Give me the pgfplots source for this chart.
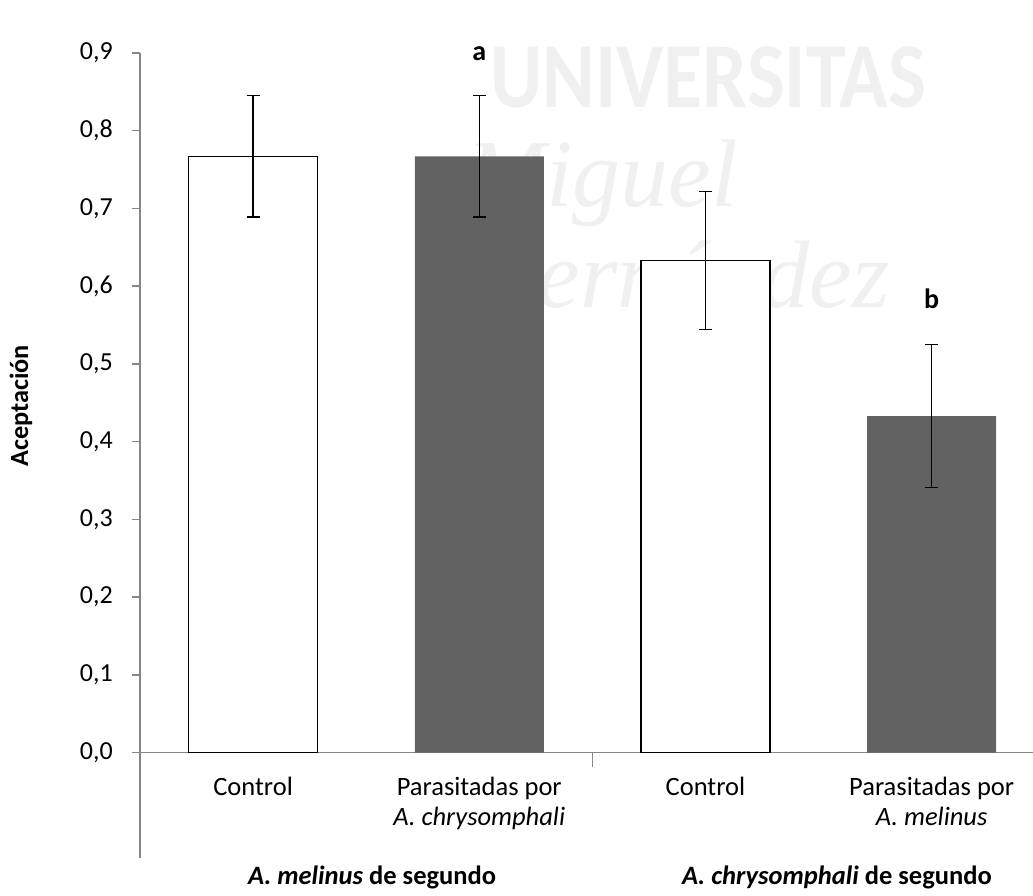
\documentclass[border=0pt]{standalone}
\usepackage{pgfplots}
\pgfplotsset{compat=1.18}
\usepackage{fontspec}
\setmainfont{Carlito}
\newfontfamily\wmserif{Liberation Serif}
\definecolor{axisgray}{RGB}{134,134,134}
\definecolor{barDark}{RGB}{98,98,98}
\definecolor{wm}{RGB}{240,240,240}
\begin{document}
\begin{tikzpicture}
\useasboundingbox (-140pt,-142.3pt) rectangle (893pt,752.7pt);
% faint watermark (behind the chart)
\node[anchor=base west, inner sep=0pt, text=wm, font=\fontsize{93}{100}\selectfont\bfseries] at (350pt,644.7pt) {\scalebox{0.86}[1]{UNIVERSITAS}};
\node[anchor=base west, inner sep=0pt, text=wm, font=\fontsize{96}{100}\wmserif\itshape] at (326pt,545.7pt) {Miguel};
\node[anchor=base west, inner sep=0pt, text=wm, font=\fontsize{96}{100}\wmserif\itshape] at (328pt,444.7pt) {Hernández};
\begin{axis}[
  at={(0pt,0pt)}, anchor=south west,
  scale only axis, width=893pt, height=699.7pt,
  xmin=-0.5, xmax=3.448, ymin=0, ymax=0.9,
  clip=false,
  axis lines*=left,
  axis line style={draw=axisgray, line width=1.5pt},
  tick align=outside,
  major tick length=8pt,
  tick style={draw=axisgray, line width=1.5pt},
  major x tick style=transparent,
  ytick={0,0.1,0.2,0.3,0.4,0.5,0.6,0.7,0.8,0.9},
  yticklabel style={font=\fontsize{26}{30}\selectfont, inner sep=0pt, xshift=-19pt},
  /pgf/number format/.cd, fixed, fixed zerofill, precision=1, use comma, assume math mode=true,
  /pgfplots/.cd,
  xtick={0,1,2,3},
  xticklabels={Control, {Parasitadas por\\\textit{A. chrysomphali}}, Control, {Parasitadas por\\\textit{A. melinus}}},
  xticklabel style={align=center, font=\fontsize{26.5}{30}\selectfont, inner sep=0pt, anchor=north, yshift=-16pt},
  ylabel={\textbf{Aceptación}},
  ylabel style={at={(axis description cs:-0.1254,0.4955)}, anchor=base, font=\fontsize{26.3}{30}\selectfont},
]
\addplot[ybar, bar width=129pt, bar shift=0pt, fill=white, draw=black, line width=1.3pt,
  error bars/.cd, y dir=both, y explicit,
  error bar style={line width=1.3pt, black},
  error mark options={rotate=90, mark size=6.5pt, line width=1.3pt, black}]
  coordinates {(0,0.767) +- (0,0.078) (2,0.633) +- (0,0.089)};
\addplot[ybar, bar width=129pt, bar shift=0pt, fill=barDark, draw=none,
  error bars/.cd, y dir=both, y explicit,
  error bar style={line width=1.3pt, black},
  error mark options={rotate=90, mark size=6.5pt, line width=1.3pt, black}]
  coordinates {(1,0.767) +- (0,0.078) (3,0.433) +- (0,0.092)};
\node[anchor=base, font=\fontsize{28}{30}\selectfont\bfseries] at (axis cs:1,0.891) {a};
\node[anchor=base, font=\fontsize{28}{30}\selectfont\bfseries] at (axis cs:3,0.572) {b};
\draw[axisgray, line width=1.5pt] (axis cs:-0.5,0) -- ++(0pt,-105.3pt);
\draw[axisgray, line width=1.5pt] (axis cs:1.5,0) -- ++(0pt,-14pt);
\node[anchor=base, inner sep=0pt, font=\fontsize{26.5}{30}\selectfont\bfseries, yshift=-131.3pt] at (axis cs:0.526,0) {\textit{A. melinus} de segundo};
\node[anchor=base, inner sep=0pt, font=\fontsize{26.5}{30}\selectfont\bfseries, yshift=-131.3pt] at (axis cs:2.581,0) {\textit{A. chrysomphali} de segundo};
\end{axis}
\end{tikzpicture}
\end{document}
